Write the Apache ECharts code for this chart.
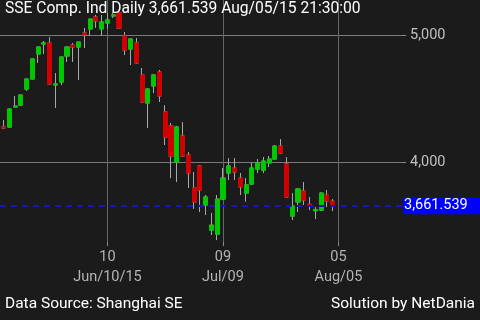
<!DOCTYPE html>
<html><head><meta charset="utf-8">
<script src="https://cdn.jsdelivr.net/npm/echarts@6/dist/echarts.min.js"></script>
<style>html,body{margin:0;padding:0;background:#1b1b1b;}#c{width:480px;height:320px;}</style>
</head><body><div id="c"></div>
<script>
// Trading sessions (x position = session number 1..59)
const sessions = ['05-15','05-18','05-19','05-20','05-21','05-22','05-25','05-26','05-27','05-28','05-29',
  '06-01','06-02','06-03','06-04','06-05','06-08','06-09','06-10','06-11','06-12','06-15','06-16','06-17','06-18','06-19','06-23','06-24','06-25','06-26','06-29','06-30',
  '07-01','07-02','07-03','07-06','07-07','07-08','07-09','07-10','07-13','07-14','07-15','07-16','07-17','07-20','07-21','07-22','07-23','07-24','07-27','07-28','07-29','07-30','07-31',
  '08-03','08-04','08-05','08-06'];
const opens = [4368,4281,4281,4439,4454,4580,4659,4856,4935,4943,4612,4635,4840,4927,4911,5021,5053,5147,5053,5100,
  5155,5179,4998,4895,4943,4691,4470,4604,4714,4399,4289,4005,4210,4061,3801,3974,3667,3470,3438,3714,
  3919,3958,3879,3761,3832,3950,3942,3998,4029,4131,3990,3580,3691,3777,3672,3622,3627,3746,3698];
const closes = [4320,4273,4423,4446,4533,4659,4817,4911,4943,4620,4620,4832,4911,4911,4950,5006,5131,5116,5108,5124,
  5163,5061,4887,4974,4785,4478,4580,4691,4525,4202,4053,4281,4053,3919,3691,3785,3730,3509,3714,3879,
  3974,3927,3809,3825,3958,3998,4013,4029,4131,4076,3730,3659,3793,3706,3667,3632,3761,3698,3661.539];
const lows = [4310,4265,4278,4436,4446,4565,4657,4785,4856,4615,4431,4612,4793,4793,4651,4903,4998,5061,4998,5053,
  5140,5055,4848,4769,4780,4470,4273,4549,4478,4139,3879,3848,4045,3801,3636,3612,3588,3431,3391,3706,
  3864,3864,3746,3693,3825,3919,3919,3966,4025,4068,3722,3549,3612,3667,3627,3557,3620,3651,3619];
const highs = [4375,4336,4425,4525,4535,4661,4819,4913,4958,4990,4706,4835,4913,4943,4952,5061,5133,5163,5163,5179,
  5178,5185,5029,4980,4982,4746,4585,4695,4730,4454,4313,4290,4320,4084,3927,3982,3746,3604,3746,3958,
  4037,4037,3919,3879,3998,4029,4045,4053,4139,4186,4045,3761,3800,3848,3730,3651,3765,3785,3714];
const xTickPos = [20, 40, 60];
const xTickDay = ['10', '09', '05'];
const xTickDate = ['Jun/10/15', 'Jul/09', 'Aug/05'];
const yTicks = [4000, 5000];
const lastPrice = 3661.539;
const titleText = 'SSE Comp. Ind Daily 3,661.539 Aug/05/15 21:30:00';
const footLeft = 'Data Source: Shanghai SE';
const footRight = 'Solution by NetDania';

const candles = opens.map((o, i) => [i + 1, o, closes[i], lows[i], highs[i]]);
const bodies = opens.map((o, i) => [i + 1, o, closes[i], Math.min(o, closes[i]), Math.max(o, closes[i])]);
const fmt = v => v.toLocaleString('en-US');
const FONT = 'Roboto';
const BLUE = '#1818b0';

const chart = echarts.init(document.getElementById('c'), null, {renderer: 'canvas'});
chart.setOption({
  animation: false,
  backgroundColor: '#1b1b1b',
  title: {text: titleText, left: 5, top: 1, padding: 0,
    textStyle: {color: '#ffffff', fontSize: 15.6, fontWeight: 'normal', fontFamily: FONT}},
  graphic: [
    {type: 'text', left: 5, top: 296, style: {text: footLeft, fill: '#ffffff', fontSize: 15.5, fontFamily: FONT}},
    {type: 'text', right: 5, top: 296, style: {text: footRight, fill: '#ffffff', fontSize: 15.5, fontFamily: FONT}}
  ],
  grid: {left: 0, right: 78, top: 0, bottom: 78, outerBoundsMode: 'none'},
  xAxis: {
    type: 'value', min: 1.39, max: 71,
    axisLine: {show: false},
    axisTick: {show: true, length: 4, customValues: xTickPos, lineStyle: {color: '#8a8a8a'}},
    axisLabel: {customValues: xTickPos, margin: 5, color: '#b4b4b4', fontSize: 14.5, lineHeight: 20, fontFamily: FONT,
      formatter: v => { const k = xTickPos.indexOf(v); return k < 0 ? '' : xTickDay[k] + '\n' + xTickDate[k]; }},
    splitLine: {show: true, lineStyle: {color: '#666666', width: 1}}
  },
  yAxis: {
    type: 'value', position: 'right', min: 3376, max: 5281, scale: true,
    axisLine: {show: false},
    axisTick: {show: true, length: 4, customValues: yTicks, lineStyle: {color: '#8a8a8a'}},
    axisLabel: {customValues: yTicks, margin: 8, color: '#c0c0c0', fontSize: 14.5, fontFamily: FONT, formatter: fmt},
    splitLine: {show: true, lineStyle: {color: '#7a7a7a', width: 1}}
  },
  series: [
    {
      type: 'candlestick', name: 'wicks', barWidth: 4.6,
      dimensions: ['x', 'open', 'close', 'lowest', 'highest'],
      encode: {x: 'x', y: ['open', 'close', 'lowest', 'highest']},
      data: candles,
      itemStyle: {color: '#a8a8a8', color0: '#a8a8a8', borderColor: '#a8a8a8', borderColor0: '#a8a8a8', borderWidth: 1}
    },
    {
      type: 'candlestick', name: 'bodies', barWidth: 4.6,
      dimensions: ['x', 'open', 'close', 'lowest', 'highest'],
      encode: {x: 'x', y: ['open', 'close', 'lowest', 'highest']},
      data: bodies,
      itemStyle: {color: '#00c800', color0: '#d00000', borderColor: '#00c800', borderColor0: '#d00000', borderWidth: 1}
    },
    {
      type: 'line', name: 'last', data: [], color: BLUE, z: 5,
      markLine: {
        symbol: ['none', 'none'], silent: true,
        lineStyle: {color: BLUE, type: [6, 5], width: 1.8, opacity: 1},
        label: {show: true, position: 'end', distance: 1, formatter: fmt(lastPrice),
          color: '#ffffff', backgroundColor: '#0000ff', fontSize: 14.5, fontFamily: FONT,
          padding: [1, 20, 1, 1]},
        data: [{yAxis: lastPrice}]
      }
    }
  ]
});
</script>
</body></html>
